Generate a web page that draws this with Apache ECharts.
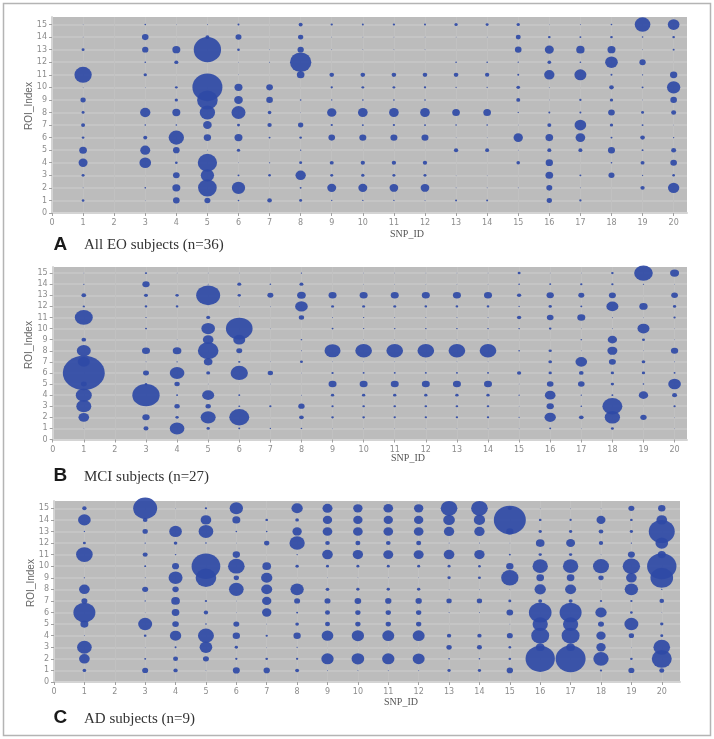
<!DOCTYPE html>
<html><head><meta charset="utf-8">
<style>html,body{margin:0;padding:0;background:#fff}#c{width:714px;height:739px}</style>
<script src="https://cdn.jsdelivr.net/npm/echarts@6/dist/echarts.min.js"></script>
</head><body><div id="c"></div>
<script>
const snpIds = [1,3,4,5,6,7,8,9,10,11,12,13,14,15,16,17,18,19,20];
const xTicks = [0,1,2,3,4,5,6,7,8,9,10,11,12,13,14,15,16,17,18,19,20];
const yTicks = [0,1,2,3,4,5,6,7,8,9,10,11,12,13,14,15];
// each row: one SNP (see snpIds); each column: ROI 1..15; bubble magnitude
const valuesA = [
[8,3,9,27,23,8,12,9,16,2,52,0,9,2,2],
[2,5,0,35,30,12,5,31,0,2,10,5,19,20,5],
[20,24,20,8,20,46,5,24,10,8,0,12,24,0,2],
[18,56,40,58,2,22,26,46,62,90,0,0,82,12,3],
[5,40,6,2,10,24,9,42,26,24,2,2,8,18,6],
[14,0,8,4,0,6,13,11,20,20,0,3,2,0,0],
[9,6,31,9,4,8,16,2,5,0,23,64,19,16,12],
[4,27,9,12,0,20,7,28,4,7,14,0,2,2,7],
[4,27,10,13,0,21,6,29,5,8,14,0,2,2,6],
[4,26,9,13,0,21,7,29,5,8,14,0,2,2,7],
[3,26,9,13,0,21,6,29,5,7,14,0,2,2,6],
[6,3,2,0,13,2,5,23,0,4,14,5,0,2,10],
[6,3,2,0,12,2,5,23,0,4,13,5,0,2,9],
[0,3,0,11,2,28,2,4,12,11,6,4,20,15,10],
[16,18,23,22,12,23,12,6,2,3,31,11,27,8,2],
[7,3,6,0,12,29,35,6,7,0,36,5,25,6,3],
[0,0,18,5,21,6,10,20,10,14,6,38,24,8,5],
[0,13,4,12,6,14,6,9,2,6,4,19,2,5,47],
[0,34,8,20,15,4,2,15,20,40,22,0,6,8,35]];
const valuesB = [
[2,32,45,48,18,126,36,42,14,0,54,7,14,4,2],
[15,22,0,82,8,18,3,24,0,6,4,8,12,22,7],
[44,10,16,6,16,44,4,26,2,0,0,8,10,0,2],
[10,45,16,36,2,12,26,62,32,41,12,0,72,3,2],
[6,60,6,6,0,52,7,18,36,80,0,2,10,12,2],
[4,0,7,0,2,16,2,0,0,2,0,2,18,5,0],
[5,14,19,3,0,2,9,3,5,0,16,38,26,12,4],
[2,8,7,10,24,7,2,48,0,6,3,9,24,0,0],
[2,8,8,10,24,6,2,50,2,4,4,9,24,2,2],
[2,7,8,10,24,6,2,50,2,5,3,9,24,2,2],
[2,7,8,10,24,6,2,50,2,5,3,8,24,2,2],
[2,7,8,10,24,6,2,50,2,5,3,8,24,2,2],
[2,7,8,10,24,6,2,50,2,5,3,8,24,2,2],
[2,4,2,4,2,13,0,5,0,5,13,4,13,5,9],
[6,34,22,32,20,10,11,10,0,8,20,10,22,6,2],
[2,14,5,4,20,14,35,2,5,2,24,6,18,7,2],
[9,46,60,6,10,10,21,30,28,3,3,36,21,7,8],
[0,19,0,28,5,10,11,2,9,36,2,25,0,4,56],
[2,2,7,15,38,6,3,22,2,2,7,10,20,2,27]];
const valuesC = [
[11,32,44,3,24,66,18,32,4,0,50,9,4,38,13],
[18,6,2,8,42,2,4,18,3,6,15,4,16,14,72],
[13,15,6,34,20,23,26,19,42,21,5,11,38,0,2],
[2,18,38,48,5,13,7,0,62,86,0,5,44,32,7],
[21,7,10,22,18,2,2,44,16,50,22,2,5,24,40],
[19,8,2,7,2,28,28,33,34,26,0,16,5,8,0],
[12,7,4,22,11,6,18,40,0,10,4,46,28,11,34],
[3,37,0,35,15,15,18,11,2,9,32,14,29,28,30],
[3,38,0,37,16,16,20,10,2,9,31,15,29,28,28],
[3,37,0,36,16,16,19,10,2,9,30,14,29,28,29],
[3,36,0,36,16,16,19,10,2,9,30,15,29,28,28],
[10,5,16,13,0,3,16,2,10,9,32,3,31,35,50],
[10,5,15,13,0,3,16,2,9,8,31,3,31,34,50],
[19,8,8,18,2,20,9,2,52,22,6,2,22,96,12],
[2,88,26,54,46,68,12,34,23,46,10,26,10,8,2],
[2,90,26,54,46,66,12,33,23,46,10,27,10,7,2],
[7,46,28,28,18,34,7,2,16,48,2,13,14,27,2],
[18,8,2,16,42,8,7,40,32,52,21,4,10,8,18],
[15,60,50,9,10,2,14,4,68,88,24,38,78,32,22]];
const captions = ['All EO subjects (n=36)','MCI subjects (n=27)','AD subjects (n=9)'];
const letters = ['A','B','C'];
const xName = 'SNP_ID', yName = 'ROI_Index';

const layout = [
 {l:52,r:687,t:17,b:213,xMax:20.43,yMax:15.6,squash:0.92,yT:106,yTx:29,xTx:407,xTy:234,capY:245,lY:244.5},
 {l:52.7,r:687,t:267,b:439.5,xMax:20.4,yMax:15.55,squash:0.82,yT:345,yTx:29,xTx:408,xTy:458,capY:477,lY:475.5},
 {l:54,r:680,t:501,b:682,xMax:20.6,yMax:15.63,squash:0.89,yT:583,yTx:31,xTx:401,xTy:702,capY:719,lY:717.5}
];
const all = [valuesA,valuesB,valuesC];
const W=714,H=739;
const grid=[],xAxis=[],yAxis=[],series=[];
const graphic=[{type:'rect',shape:{x:3.5,y:3.5,width:707,height:732},style:{fill:'none',stroke:'#b4b4b4',lineWidth:1.5}}];
const labelColor='#8c8c8c';
layout.forEach((p,i)=>{
  grid.push({left:p.l,top:p.t,width:p.r-p.l,height:p.b-p.t,show:true,backgroundColor:'#bcbcbc',borderWidth:0,containLabel:false});
  xAxis.push({gridIndex:i,type:'value',min:0,max:p.xMax,interval:1,
    axisLine:{show:true,onZero:false,lineStyle:{color:'#d4d4d4',width:2}},
    axisTick:{show:true,length:3,customValues:xTicks,lineStyle:{color:'#a0a0a0'}},
    axisLabel:{customValues:xTicks,color:labelColor,fontSize:8,margin:6,fontFamily:'DejaVu Sans'},
    splitLine:{show:true,lineStyle:{color:'#c1c1c1',width:1}}});
  yAxis.push({gridIndex:i,type:'value',min:0,max:p.yMax,interval:1,
    axisLine:{show:true,onZero:false,lineStyle:{color:'#d4d4d4',width:2}},
    axisTick:{show:true,length:3,customValues:yTicks,lineStyle:{color:'#a0a0a0'}},
    axisLabel:{customValues:yTicks,color:labelColor,fontSize:8,margin:5,fontFamily:'DejaVu Sans'},
    splitLine:{show:true,lineStyle:{color:'#c8c8c8',width:1.5}}});
  const data=[];
  all[i].forEach((col,c)=>col.forEach((v,r)=>{ if(v>0) data.push([snpIds[c],r+1,v]); }));
  series.push({type:'scatter',xAxisIndex:i,yAxisIndex:i,data,clip:true,
    symbolSize:d=>[d[2]/3,d[2]/3*p.squash],
    itemStyle:{color:'#2f4aa6',opacity:0.92},silent:true,animation:false});
  graphic.push({type:'text',x:p.yTx,y:p.yT,rotation:Math.PI/2,style:{text:yName,fill:'#666',font:'10px "Liberation Sans"',align:'center',verticalAlign:'middle'}});
  graphic.push({type:'text',x:p.xTx,y:p.xTy,style:{text:xName,fill:'#555',font:'10px "Liberation Serif"',align:'center',verticalAlign:'middle'}});
  graphic.push({type:'text',x:53.5,y:p.lY,style:{text:letters[i],fill:'#1a1a1a',font:'bold 19px "Liberation Sans"',align:'left',verticalAlign:'middle'}});
  graphic.push({type:'text',x:84,y:p.capY,style:{text:captions[i],fill:'#333',font:'15px "Liberation Serif"',align:'left',verticalAlign:'middle'}});
});
const chart=echarts.init(document.getElementById('c'),null,{renderer:'canvas',width:W,height:H});
chart.setOption({animation:false,backgroundColor:'#fff',grid,xAxis,yAxis,series,graphic});
</script></body></html>
